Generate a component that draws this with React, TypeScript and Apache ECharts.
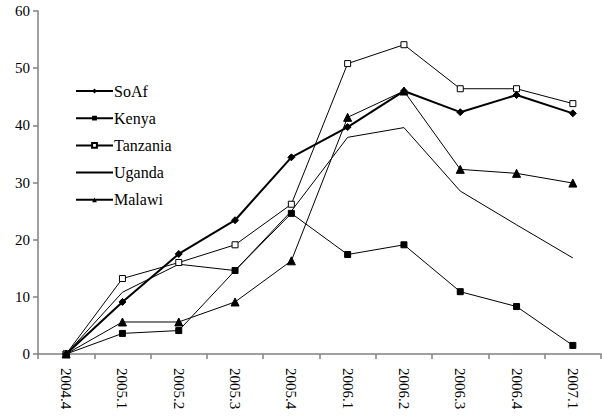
import React, { useEffect, useRef } from "react";
import * as echarts from "echarts";

const categories = ["2004.4", "2005.1", "2005.2", "2005.3", "2005.4", "2006.1", "2006.2", "2006.3", "2006.4", "2007.1"];
const soAf = [0, 9.1, 17.5, 23.4, 34.4, 39.7, 46.0, 42.3, 45.3, 42.1];
const kenya = [0, 3.6, 4.1, 14.6, 24.6, 17.4, 19.1, 10.9, 8.3, 1.5];
const tanzania = [0, 13.2, 16.0, 19.1, 26.2, 50.8, 54.1, 46.4, 46.4, 43.8];
const uganda = [0, 10.8, 15.7, 14.6, 25.0, 37.9, 39.6, 28.5, 22.6, 16.8];
const malawi = [0, 5.6, 5.6, 9.1, 16.3, 41.4, 46.0, 32.3, 31.6, 29.9];
const seriesNames = ["SoAf", "Kenya", "Tanzania", "Uganda", "Malawi"];
const yTicks = { min: 0, max: 60, interval: 10 };

const FONT = "Liberation Serif";

export default function App() {
  const ref = useRef<HTMLDivElement>(null);
  useEffect(() => {
    const chart = echarts.init(ref.current!, null, { renderer: "svg" });
    const base = {
      type: "line",
      color: "#000",
      lineStyle: { color: "#000", width: 1 },
      itemStyle: { color: "#000", borderColor: "#000" },
      emphasis: { disabled: true },
    };
    chart.setOption({
      animation: false,
      backgroundColor: "#fff",
      textStyle: { fontFamily: FONT },
      grid: { left: 38, right: 1, top: 11, bottom: 65, containLabel: false },
      legend: {
        orient: "vertical",
        left: 70,
        top: 78,
        itemWidth: 37,
        itemHeight: 6,
        itemGap: 11.2,
        textStyle: { fontFamily: FONT, fontSize: 16, lineHeight: 14, color: "#000", padding: [0, 0, 0, -4] },
        data: seriesNames.map((n) =>
          n === "Uganda"
            ? { name: n, itemStyle: { color: "rgba(0,0,0,0)", borderColor: "rgba(0,0,0,0)", opacity: 0 } }
            : { name: n }
        ),
      },
      xAxis: {
        type: "category",
        data: categories,
        boundaryGap: true,
        axisLine: { lineStyle: { color: "#808080", width: 1.5 } },
        axisTick: { show: true, length: 5, lineStyle: { color: "#808080", width: 1.5 } },
        axisLabel: { rotate: -90, fontFamily: FONT, fontSize: 15, color: "#000", margin: 14, interval: 0 },
        splitLine: { show: false },
      },
      yAxis: {
        type: "value",
        min: yTicks.min,
        max: yTicks.max,
        interval: yTicks.interval,
        axisLine: { show: true, lineStyle: { color: "#808080", width: 1.5 } },
        axisTick: { show: true, length: 5, lineStyle: { color: "#808080", width: 1.5 } },
        axisLabel: { fontFamily: FONT, fontSize: 15, color: "#000", margin: 8 },
        splitLine: { show: false },
      },
      series: [
        { ...base, name: seriesNames[0], data: soAf, symbol: "diamond", symbolSize: 7, lineStyle: { color: "#000", width: 2 }, z: 5 },
        { ...base, name: seriesNames[1], data: kenya, symbol: "rect", symbolSize: 6 },
        { ...base, name: seriesNames[2], data: tanzania, symbol: "rect", symbolSize: 6, itemStyle: { color: "#fff", borderColor: "#000", borderWidth: 1 } },
        { ...base, name: seriesNames[3], data: uganda, symbol: "none", showSymbol: false },
        { ...base, name: seriesNames[4], data: malawi, symbol: "triangle", symbolSize: 8 },
      ],
    });
    return () => chart.dispose();
  }, []);
  return <div ref={ref} style={{ width: 602, height: 419, position: "absolute", left: 0, top: 0 }} />;
}
